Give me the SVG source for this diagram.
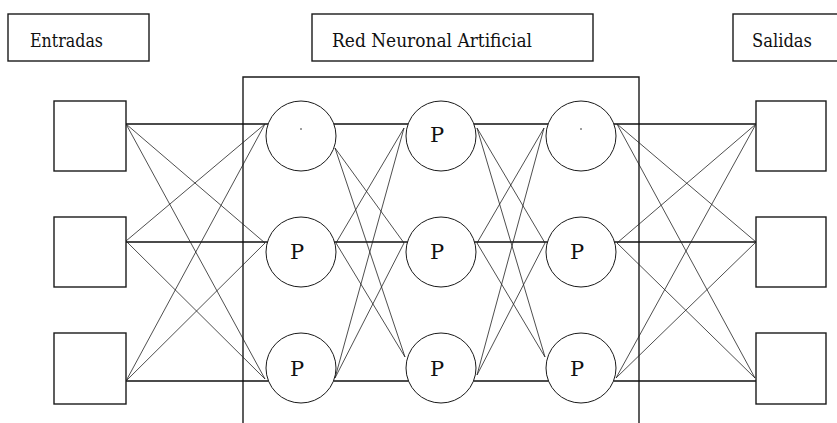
<svg xmlns="http://www.w3.org/2000/svg" width="837" height="423" viewBox="0 0 837 423">
<style>
.box{fill:#fff;stroke:#1a1a1a;stroke-width:1.4}
.frame{fill:none;stroke:#1a1a1a;stroke-width:1.4}
.neuron{fill:#fff;stroke:#1a1a1a;stroke-width:1}
.lbl{font-family:'DejaVu Serif','Noto Serif',serif;font-size:19px;fill:#111}
.p{font-family:'DejaVu Serif','Noto Serif',serif;font-size:21px;fill:#111;text-anchor:middle}
.h{stroke:#111;stroke-width:1.3;fill:none}
.d{stroke:#222;stroke-width:0.8;fill:none}
</style>
<rect width="837" height="423" fill="#fff"/>
<g id="frame"><path class="frame" d="M243,423 V77 H639 V423"/></g>
<g id="label-entradas"><rect class="box" x="8" y="14" width="141" height="47"/><text class="lbl" x="30" y="47" textLength="73" lengthAdjust="spacingAndGlyphs">Entradas</text></g>
<g id="label-red"><rect class="box" x="312" y="14" width="281" height="47"/><text class="lbl" x="332" y="47" textLength="200" lengthAdjust="spacingAndGlyphs">Red Neuronal Artificial</text></g>
<g id="label-salidas"><rect class="box" x="733" y="14" width="110" height="47"/><text class="lbl" x="752" y="47" textLength="60" lengthAdjust="spacingAndGlyphs">Salidas</text></g>
<g id="connectors">
<g class="h-lines">
<path class="h" d="M126,124 H268 M334,124 H408 M474,124 H548 M614,124 H756"/>
<path class="h" d="M126,242 H268 M334,242 H408 M474,242 H548 M614,242 H756"/>
<path class="h" d="M126,381 H269 M333,381 H409 M473,381 H549 M613,381 H756"/>
</g>
<g class="diag">
<path class="d" d="M126,124 L265,243 M126,124 L265,379 M126,241 L265,124 M126,241 L265,379 M126,381 L265,124 M126,381 L265,243"/>
<path class="d" d="M335,148 L404,243 M335,148 L405,357 M336,243 L404,128 M336,243 L405,357 M335,378 L404,128 M335,378 L404,243"/>
<path class="d" d="M477,128 L545,243 M477,128 L545,357 M477,243 L544,128 M477,243 L545,357 M477,375 L544,128 M477,375 L545,243"/>
<path class="d" d="M617,124 L756,242 M617,124 L755,378 M617,243 L756,124 M617,243 L755,378 M616,378 L756,124 M616,378 L756,242"/>
</g>
</g>
<g id="in1"><rect class="box" x="54" y="101" width="72" height="70"/></g>
<g id="in2"><rect class="box" x="54" y="217" width="72" height="70"/></g>
<g id="in3"><rect class="box" x="54" y="333" width="72" height="71"/></g>
<g id="out1"><rect class="box" x="756" y="101" width="70" height="70"/></g>
<g id="out2"><rect class="box" x="756" y="217" width="70" height="70"/></g>
<g id="out3"><rect class="box" x="756" y="333" width="70" height="71"/></g>
<g id="n11"><circle class="neuron" cx="301" cy="136" r="35"/><circle cx="301" cy="129" r="0.8" fill="#222"/></g>
<g id="n12"><circle class="neuron" cx="301" cy="252" r="35"/><text class="p" x="297" y="259">P</text></g>
<g id="n13"><circle class="neuron" cx="301" cy="368" r="35"/><text class="p" x="297" y="376">P</text></g>
<g id="n21"><circle class="neuron" cx="441" cy="136" r="35"/><text class="p" x="437" y="142">P</text></g>
<g id="n22"><circle class="neuron" cx="441" cy="252" r="35"/><text class="p" x="437" y="259">P</text></g>
<g id="n23"><circle class="neuron" cx="441" cy="368" r="35"/><text class="p" x="437" y="376">P</text></g>
<g id="n31"><circle class="neuron" cx="581" cy="136" r="35"/><circle cx="581" cy="129" r="0.8" fill="#222"/></g>
<g id="n32"><circle class="neuron" cx="581" cy="252" r="35"/><text class="p" x="577" y="259">P</text></g>
<g id="n33"><circle class="neuron" cx="581" cy="368" r="35"/><text class="p" x="577" y="376">P</text></g>
</svg>
